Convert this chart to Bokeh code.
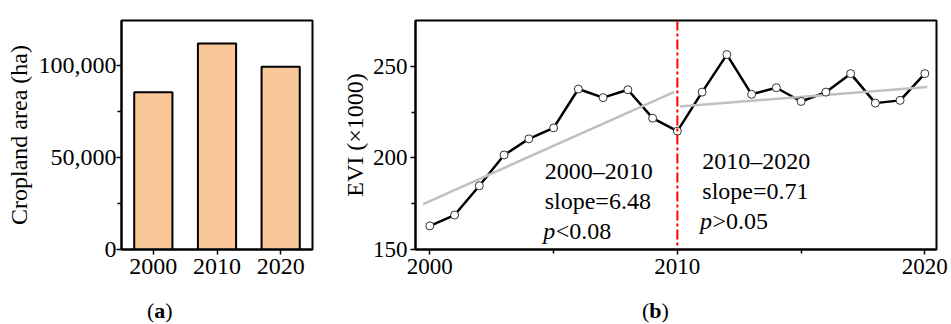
from bokeh.plotting import figure
from bokeh.models import (FactorRange, Range1d, FixedTicker, NumeralTickFormatter,
                          Span, Label, Div)
from bokeh.layouts import row, column
from bokeh.embed import file_html
from bokeh.resources import INLINE

FONT = "Liberation Serif"

# ---------------- data ----------------
crop_years = ["2000", "2010", "2020"]
crop_area = [85700, 112200, 99600]

evi_years = [2000, 2001, 2002, 2003, 2004, 2005, 2006, 2007, 2008, 2009, 2010,
             2011, 2012, 2013, 2014, 2015, 2016, 2017, 2018, 2019, 2020]
evi_values = [162.9, 168.8, 184.8, 201.6, 210.4, 216.4, 237.6, 232.9, 237.2, 221.7, 214.6,
              235.9, 256.4, 234.7, 238.3, 230.8, 235.9, 246.0, 229.9, 231.4, 246.0]

trend1_x = [1999.73, 2009.86]
trend1_y = [174.8, 235.9]
trend2_x = [2010.1, 2020.1]
trend2_y = [228.1, 238.7]
break_year = 2010

crop_ticks = [0, 50000, 100000]
crop_minor = [25000, 75000]
evi_xticks = [2000, 2010, 2020]
evi_xminor = [2005, 2015]
evi_yticks = [150, 200, 250]
evi_yminor = [175, 225]


def style_axis(ax, tick_size, label_size):
    ax.axis_line_width = 2
    ax.axis_line_color = "black"
    ax.major_tick_line_width = 1.5
    ax.major_tick_line_color = "black"
    ax.minor_tick_line_width = 1.5
    ax.minor_tick_line_color = "black"
    ax.major_tick_out = 5
    ax.major_tick_in = 0
    ax.minor_tick_out = 4
    ax.minor_tick_in = 0
    ax.major_label_text_font = FONT
    ax.major_label_text_font_size = tick_size
    ax.major_label_text_color = "black"
    ax.axis_label_text_font = FONT
    ax.axis_label_text_font_size = label_size
    ax.axis_label_text_font_style = "normal"
    ax.axis_label_text_color = "black"


def caption(letter, width, left):
    html = ('<div style="font-family:\'Liberation Serif\',serif;font-size:22px;line-height:22px;'
            'padding-left:%dpx;padding-top:10px;color:black;white-space:nowrap;">(<b>%s</b>)</div>'
            % (left, letter))
    return Div(text=html, width=width, height=34, margin=0)


# ---------------- panel (a) ----------------
pa = figure(width=335, height=290, x_range=FactorRange(factors=crop_years, range_padding=0),
            y_range=Range1d(0, 124750), output_backend="svg", toolbar_location=None,
            min_border_left=121, min_border_right=23, min_border_top=18, min_border_bottom=41)
pa.vbar(x=crop_years, top=crop_area, width=0.6, fill_color="#fac898",
        line_color="black", line_width=2)
pa.xgrid.visible = False
pa.ygrid.visible = False
pa.outline_line_color = "black"
pa.outline_line_width = 2
pa.outline_line_alpha = 1
style_axis(pa.xaxis[0], "24px", "24px")
style_axis(pa.yaxis[0], "24px", "24px")
pa.xaxis.major_label_standoff = 4
pa.yaxis.major_label_standoff = 0
pa.yaxis.ticker = FixedTicker(ticks=crop_ticks, minor_ticks=crop_minor)
pa.yaxis.formatter = NumeralTickFormatter(format="0,0")
pa.yaxis.axis_label = "Cropland area (ha)"
pa.yaxis.axis_label_standoff = 4

# ---------------- panel (b) ----------------
pb = figure(width=616, height=290, x_range=Range1d(1999.42, 2020.47), y_range=Range1d(150, 275),
            output_backend="svg", toolbar_location=None,
            min_border_left=80, min_border_right=15, min_border_top=20, min_border_bottom=41)
pb.line(evi_years, evi_values, line_color="black", line_width=2.5)
pb.line(trend1_x, trend1_y, line_color="#c0c0c0", line_width=2.5)
pb.line(trend2_x, trend2_y, line_color="#c0c0c0", line_width=2.5)
pb.scatter(evi_years, evi_values, size=8, fill_color="white", line_color="#333333", line_width=1)
pb.add_layout(Span(location=break_year, dimension="height", line_color="#ff0000",
                   line_width=2, line_dash="10 3 3 3"))
pb.xgrid.visible = False
pb.ygrid.visible = False
pb.outline_line_color = "black"
pb.outline_line_width = 2
pb.outline_line_alpha = 1
style_axis(pb.xaxis[0], "23px", "24px")
style_axis(pb.yaxis[0], "23px", "24px")
pb.xaxis.ticker = FixedTicker(ticks=evi_xticks, minor_ticks=evi_xminor)
pb.yaxis.ticker = FixedTicker(ticks=evi_yticks, minor_ticks=evi_yminor)
pb.xaxis.major_label_standoff = 4
pb.yaxis.major_label_standoff = 3
pb.yaxis.axis_label = "EVI (×1000)"
pb.yaxis.axis_label_standoff = 2


def note(x, y, text, style="normal", x_offset=0):
    pb.add_layout(Label(x=x, y=y, text=text, x_offset=x_offset, text_font=FONT,
                        text_font_size="24px", text_font_style=style, text_align="left",
                        text_baseline="alphabetic", text_color="black"))


note(2004.64, 193.0, "2000–2010")
note(2004.64, 176.6, "slope=6.48")
note(2004.58, 160.2, "p", "italic")
note(2004.58, 160.2, "<0.08", x_offset=12.5)
note(2011.01, 198.5, "2010–2020")
note(2011.01, 181.7, "slope=0.71")
note(2010.91, 165.7, "p", "italic")
note(2010.91, 165.7, ">0.05", x_offset=12.5)

cap_a = caption("a", 335, 147)
cap_b = caption("b", 616, 307)

layout = column(row(pa, pb), row(cap_a, cap_b))
open("out.html", "w").write(file_html(layout, INLINE))
